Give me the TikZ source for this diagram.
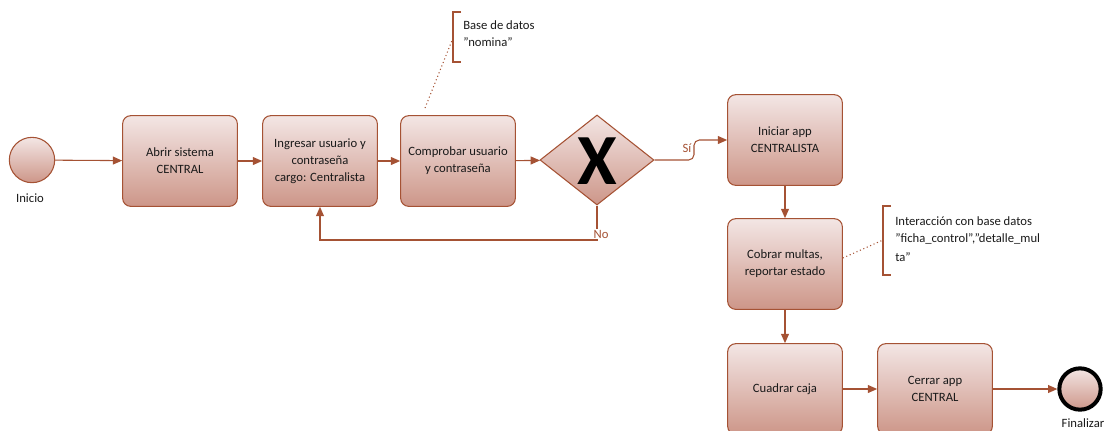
\documentclass[tikz,border=0pt]{standalone}
\usepackage{fontspec}
\setmainfont{Carlito}
\usetikzlibrary{shapes.geometric, arrows.meta}
\definecolor{edge}{RGB}{165, 82, 52}
\definecolor{light}{RGB}{243, 230, 228}
\definecolor{deep}{RGB}{205, 150, 137}
\newcommand{\qt}{\symbol{34}}

\begin{document}
\begin{tikzpicture}[
   x=0.75pt, y=-0.75pt,
   task/.style={rectangle, rounded corners=6, draw=edge, top color=light,
                bottom color=deep, line width=0.8, text=black!90,
                minimum width=86, minimum height=68, align=center,
                inner sep=2, font=\fontsize{9.5}{12.75}\selectfont},
   gateway/.style={diamond, draw=edge, top color=light, bottom color=deep,
                   line width=0.8, minimum width=85.5, minimum height=67.5,
                   inner sep=0},
   startev/.style={circle, draw=edge, top color=light, bottom color=deep,
                   line width=0.8, minimum size=34, inner sep=0},
   endev/.style={circle, draw=black, top color=light, bottom color=deep,
                 line width=3, minimum size=31, inner sep=0},
   note/.style={align=left, inner sep=0, text=black!90,
                font=\fontsize{9.5}{12.75}\selectfont},
   lbl/.style={inner sep=0, font=\fontsize{9.5}{11}\selectfont},
   flow/.style={->, >={Triangle[length=7, width=6]}, draw=edge, line width=0.8},
   assoc/.style={draw=edge, dotted, line width=0.8}
  ]

  \useasboundingbox (0, 0) rectangle (1111, 430);

  % Events
  \node (I) at (32, 160) [startev] {};
  \node (IL) at (30, 198) [lbl, text=black!90] {Inicio};
  \node (F) at (1080, 389) [endev] {};
  \node (FL) at (1083, 423) [lbl, text=black!90] {Finalizar};

  % Tasks
  \node (A) at (180, 161) [task] {Abrir sistema\\CENTRAL};
  \node (B) at (320, 161) [task] {Ingresar usuario y\\contraseña\\cargo: Centralista};
  \node (C) at (458, 161) [task] {Comprobar usuario\\y contraseña};
  \node (D) at (785, 140) [task] {Iniciar app\\CENTRALISTA};
  \node (E) at (785, 264) [task] {Cobrar multas,\\reportar estado};
  \node (G) at (785, 389) [task] {Cuadrar caja};
  \node (H) at (935, 389) [task] {Cerrar app\\CENTRAL};

  % Gateway
  \node (X) at (597, 160) [gateway] {};
  \node (XL) at (597, 161) [inner sep=0, font=\fontsize{54}{54}\bfseries\selectfont] {X};

  \foreach \B/\E in {I/A, A/B, B/C, C/X, D/E, E/G, G/H, H/F} {
    \draw[flow] (\B) -- (\E);
  }

  % Branches
  \coordinate (yes) at (694, 160);
  \coordinate (no) at (597, 240);
  \draw[flow, rounded corners=4] (X.east) -- (yes) |- (D.west);
  \draw[flow] (X.south) -- (no) -| (B.south);
  \node (YL) at (687, 148) [lbl, text=edge] {Sí};
  \node (NL) at (601, 234) [lbl, text=edge, fill=white, inner sep=1] {No};

  % Annotations
  \node (N1) at (463, 20) [note, anchor=north west] {Base de datos\\\qt nomina\qt};
  \draw[edge, line width=0.8] (461, 12) -- (453, 12) -- (453, 62) -- (461, 62);
  \coordinate (n1) at (453, 38);
  \coordinate (c1) at (425, 108);
  \draw[assoc] (c1) -- (n1);

  \node (N2) at (895, 216) [note, anchor=north west] {Interacción con base datos\\\qt ficha\_control\qt,\qt detalle\_mul\\[1.5pt]ta\qt};
  \draw[edge, line width=0.8] (891, 206) -- (883, 206) -- (883, 275) -- (891, 275);
  \coordinate (n2) at (883, 240);
  \draw[assoc] (E.east) ++(0, -6) -- (n2);

\end{tikzpicture}
\end{document}
